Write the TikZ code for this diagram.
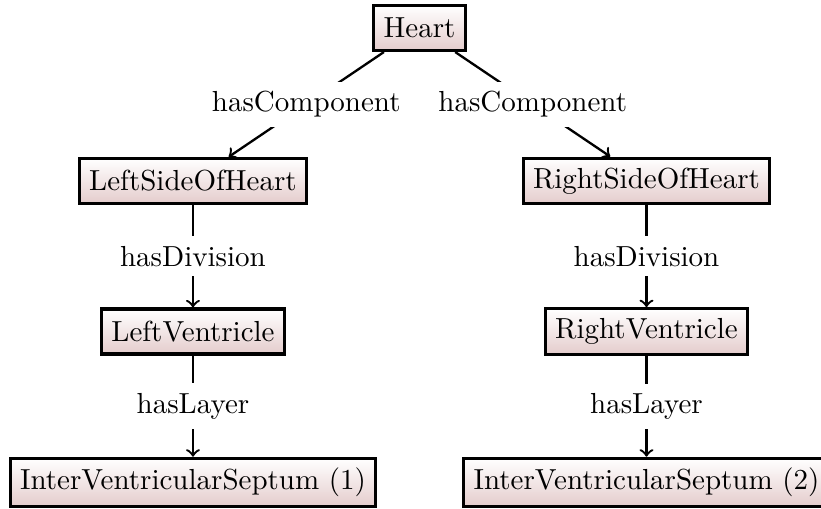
\documentclass[tikz,border=0pt]{standalone}
\usepackage{xcolor}
\definecolor{conceptlight}{RGB}{255,255,255}
\definecolor{conceptdark}{RGB}{228,204,204}
\tikzstyle{concept}=[draw, line width=1.1pt, top color=conceptlight, bottom color=conceptdark, minimum height=15.5pt, inner xsep=3.4pt]
\tikzset{relation/.style={midway, fill=white}}
\tikzstyle{link}=[->, thick]

\begin{document}
\begin{tikzpicture}
  \useasboundingbox (0,0) rectangle (9.951,-6.158);
  \draw (5.085,-0.339) node[concept] (Heart) {Heart};

  \draw (2.339,-2.194) node[concept] (LeftSide) {LeftSideOfHeart};
  \draw (2.339,-4.018) node[concept] (LeftVent) {LeftVentricle};
  \draw (2.339,-5.848) node[concept] (Septum1) {InterVentricularSeptum (1)};

  \draw (7.836,-2.194) node[concept] (RightSide) {RightSideOfHeart};
  \draw (7.836,-4.018) node[concept] (RightVent) {RightVentricle};
  \draw (7.836,-5.848) node[concept] (Septum2) {InterVentricularSeptum (2)};

  %% Relations
  \draw[link] (Heart) -- (LeftSide) node[relation] {hasComponent};
  \draw[link] (LeftSide) -- (LeftVent) node[relation] {hasDivision};
  \draw[link] (LeftVent) -- (Septum1) node[relation] {hasLayer};

  \draw[link] (Heart) -- (RightSide) node[relation] {hasComponent};
  \draw[link] (RightSide) -- (RightVent) node[relation] {hasDivision};
  \draw[link] (RightVent) -- (Septum2) node[relation] {hasLayer};
\end{tikzpicture}
\end{document}
